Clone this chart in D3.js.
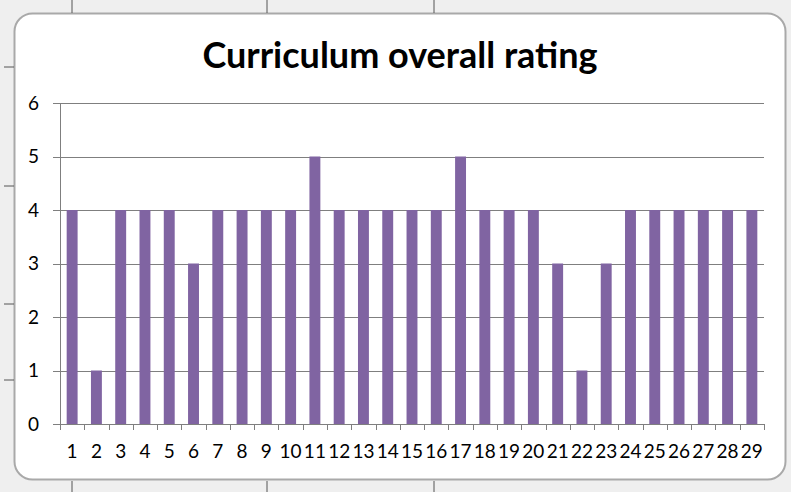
<!DOCTYPE html>
<html><head><meta charset="utf-8">
<script src="https://cdn.jsdelivr.net/npm/d3@7"></script>
<style>body{margin:0;background:#fff}svg{display:block}</style>
</head><body>
<script>
const categories = ["1","2","3","4","5","6","7","8","9","10","11","12","13","14","15","16","17","18","19","20","21","22","23","24","25","26","27","28","29"];
const ratings = [4,1,4,4,4,3,4,4,4,4,5,4,4,4,4,4,5,4,4,4,3,1,3,4,4,4,4,4,4];
const yTicks = [0,1,2,3,4,5,6];
const title = "Curriculum overall rating";

const W = 791, H = 492;
const svg = d3.select("body").append("svg").attr("width", W).attr("height", H);

// outer frame (spreadsheet background)
svg.append("rect").attr("width", W).attr("height", H).attr("fill", "#efefef");
svg.append("rect").attr("x", 14.5).attr("y", 13.5).attr("width", 771).attr("height", 466)
  .attr("rx", 18).attr("fill", "#fff").attr("stroke", "#a9a9a9").attr("stroke-width", 2);
// ruler marks
[72, 267, 434].forEach(x => {
  svg.append("line").attr("x1", x).attr("x2", x).attr("y1", 0).attr("y2", 13).attr("stroke", "#555");
  svg.append("line").attr("x1", x).attr("x2", x).attr("y1", 481).attr("y2", 492).attr("stroke", "#555");
});
[67, 186, 304, 380].forEach(y => {
  svg.append("line").attr("x1", 4).attr("x2", 14).attr("y1", y).attr("y2", y).attr("stroke", "#555");
});

const x = d3.scaleBand().domain(categories).range([60, 764]).paddingInner(0.55).paddingOuter(0.275);
const xb = d3.scaleBand().domain(categories).range([60, 764]);
const y = d3.scaleLinear().domain([0, 6]).range([424, 103]);

// gridlines
svg.append("g").selectAll("line").data(yTicks.slice(1)).join("line")
  .attr("x1", 53).attr("x2", 764).attr("y1", d => Math.round(y(d)) + 0.5).attr("y2", d => Math.round(y(d)) + 0.5)
  .attr("stroke", "#7f7f7f").attr("stroke-width", 1);

// bars
svg.append("g").selectAll("rect").data(ratings).join("rect")
  .attr("x", (d, i) => x(categories[i])).attr("width", x.bandwidth())
  .attr("y", d => y(d)).attr("height", d => y(0) - y(d))
  .attr("fill", "#8064a2");

// axes
const ax = svg.append("g").attr("stroke", "#7f7f7f").attr("stroke-width", 1);
ax.append("line").attr("x1", 60.5).attr("x2", 60.5).attr("y1", y(6)).attr("y2", 424);
ax.append("line").attr("x1", 53).attr("x2", 764).attr("y1", 424.5).attr("y2", 424.5);
const xtickPos = categories.map(c => xb(c)).concat([764]);
ax.selectAll(".xt").data(xtickPos).join("line")
  .attr("x1", d => Math.round(d) + 0.5).attr("x2", d => Math.round(d) + 0.5).attr("y1", 424).attr("y2", 430);

// y labels
svg.append("g").selectAll("text").data(yTicks).join("text")
  .attr("x", 39).attr("y", d => y(d)).attr("dy", "0.36em").attr("text-anchor", "end")
  .attr("font-family", "Lato, 'Open Sans', sans-serif").attr("font-size", 19).attr("fill", "#000")
  .text(d => d);

// x labels
svg.append("g").selectAll("text").data(categories).join("text")
  .attr("x", d => xb(d) + xb.bandwidth() / 2).attr("y", 458).attr("text-anchor", "middle")
  .attr("font-family", "Lato, 'Open Sans', sans-serif").attr("font-size", 19).attr("fill", "#000")
  .text(d => d);

// title
svg.append("text").attr("x", 400).attr("y", 68).attr("text-anchor", "middle")
  .attr("font-family", "Lato, 'Open Sans', sans-serif").attr("font-weight", "bold").attr("font-size", 36)
  .attr("fill", "#000").text(title);
</script>
</body></html>
